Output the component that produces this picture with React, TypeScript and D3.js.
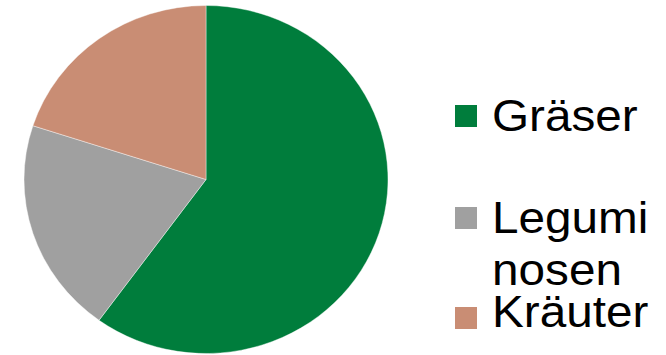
import React from "react";
import * as d3 from "d3";

const categories = ["Gräser", "Leguminosen", "Kräuter"];
const values = [60, 20, 20];
const legendLines = [["Gräser"], ["Legumi", "nosen"], ["Kräuter"]];
const colors = ["#007D3C", "#A0A0A0", "#C98D74"];

const W = 666;
const H = 355;

export default function App() {
  const cx = 206;
  const cy = 179.5;
  const rx = 182;
  const ry = 174;
  const pie = d3.pie<number>().sort(null).value((d) => d);
  const arcs = pie(values);
  const arc = d3.arc<d3.PieArcDatum<number>>().innerRadius(0).outerRadius(ry);

  const legendX = 455;
  const sq = 22;
  const squareTops = [105, 207, 307];
  const baselines = [131, 233, 327];
  const lineH = 52;
  const textX = 492;

  return (
    <svg
      width={W}
      height={H}
      style={{ position: "absolute", left: 0, top: 0, background: "#fff" }}
      fontFamily="'Liberation Sans', Arial, sans-serif"
    >
      <rect width={W} height={H} fill="#fff" />
      <g transform={`translate(${cx},${cy}) scale(${rx / ry},1)`}>
        {arcs.map((a, i) => (
          <path key={categories[i]} d={arc(a) || ""} fill={colors[i]} stroke="#fff" strokeWidth={0.4} />
        ))}
      </g>
      {categories.map((c, i) => (
        <g key={c}>
          <rect x={legendX} y={squareTops[i]} width={sq} height={sq} fill={colors[i]} />
          <text transform={`translate(${textX},${baselines[i]}) scale(1.06,1)`} fontSize={45} fill="#000">
            {legendLines[i].map((t, j) => (
              <tspan key={j} x={0} y={j * lineH}>
                {t}
              </tspan>
            ))}
          </text>
        </g>
      ))}
    </svg>
  );
}
